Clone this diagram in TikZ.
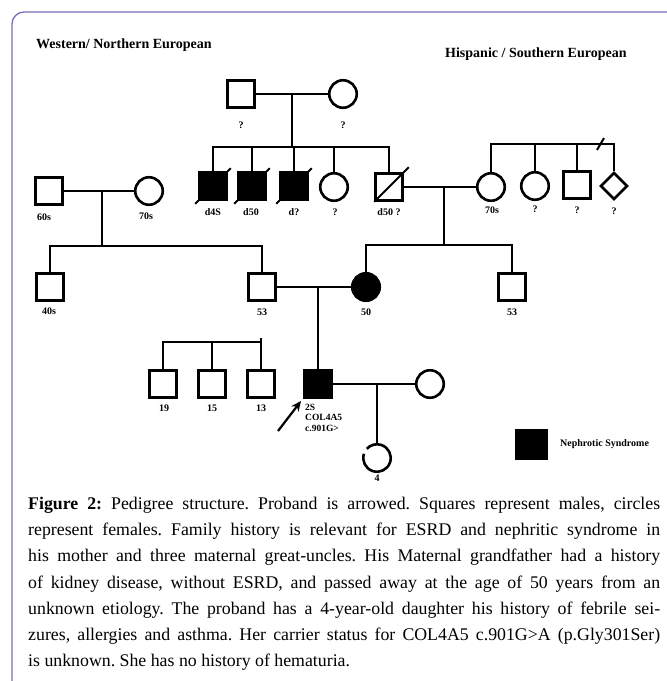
\documentclass[tikz,border=0pt]{standalone}
\usepackage{fontspec}
\setmainfont{Liberation Serif}
\usetikzlibrary{shapes.geometric,arrows.meta}
\definecolor{framec}{RGB}{122,112,184}
\frenchspacing
\begin{document}
\begin{tikzpicture}[x=1pt,y=-1pt,
  ped/.style={line width=2.6pt,line join=miter},
  male/.style={draw,line width=2.6pt,rectangle,minimum size=27pt,inner sep=0pt},
  female/.style={draw,line width=2.6pt,circle,minimum size=27.5pt,inner sep=0pt},
  unk/.style={draw,line width=2.6pt,diamond,minimum size=27pt,inner sep=0pt},
  aff/.style={fill=black},
  lab/.style={font=\bfseries\fontsize{10}{11}\selectfont,inner sep=0pt},
  hdr/.style={font=\bfseries\fontsize{14}{16}\selectfont,anchor=west,inner sep=0pt},
  dslash/.style={line width=1.8pt},
]
\useasboundingbox (0,0) rectangle (667,681);
\fill[white] (0,0) rectangle (667,681);
% frame
\coordinate (fr1) at (12,681);
\coordinate (fr2) at (12,12);
\coordinate (fr3) at (667,12);
\draw[framec,line width=1.3pt,rounded corners=12pt] (fr1) -- (fr2) -- (fr3);

% headers
\node[hdr] (hw) at (36,45) {Western/ Northern European};
\node[hdr] (hh) at (445,54) {Hispanic / Southern European};

% ---- top (maternal great-grandparents)
\node[male] (tgf) at (241,94) {};
\node[female] (tgm) at (343,94) {};
\node[lab] (ltgf) at (241,125) {?};
\node[lab] (ltgm) at (343,125) {?};
\draw[ped] (tgf) -- (tgm);
\coordinate (tm) at (292,94);
\coordinate (ts) at (292,147);
\draw[ped] (tm) -- (ts);

% sibship of great-uncles
\node[male,aff] (gu1) at (213,186) {};
\node[male,aff] (gu2) at (252,186) {};
\node[male,aff] (gu3) at (294,186) {};
\node[female] (ga) at (334,187) {};
\node[male] (gf) at (389,187) {};
\draw[ped] (gu1) -- (gu1|-ts) -- (gf|-ts) -- (gf);
\draw[ped] (gu2|-ts) -- (gu2);
\draw[ped] (gu3|-ts) -- (gu3);
\draw[ped] (ga|-ts) -- (ga);
\foreach \n in {gu1,gu2,gu3}{
  \draw[dslash] ([shift={(-3,3)}]\n.south west) -- ([shift={(3,-3)}]\n.north east);
}
\draw[dslash] (gf.south west) -- ([shift={(5,-5)}]gf.north east);
\node[lab] (lgu1) at (213,212) {d4S};
\node[lab] (lgu2) at (251,212) {d50};
\node[lab] (lgu3) at (294,212) {d?};
\node[lab] (lga) at (335,212) {?};
\node[lab] (lgf) at (389,212) {d50 ?};

% Hispanic side
\node[female] (gm) at (491,187) {};
\node[female] (gs1) at (535,186) {};
\node[male] (gb) at (577,185) {};
\node[unk] (gx) at (614,186) {};
\coordinate (hs) at (550,144);
\draw[ped] (gm) -- (gm|-hs) -- (gx|-hs) -- (gx);
\draw[ped] (gs1|-hs) -- (gs1);
\draw[ped] (gb|-hs) -- (gb);
\coordinate (bk1) at (597,150);
\coordinate (bk2) at (604,138);
\draw[line width=2pt] (bk1) -- (bk2);
\node[lab] (lgm) at (492,210) {70s};
\node[lab] (lgs1) at (535,209) {?};
\node[lab] (lgb) at (577,210) {?};
\node[lab] (lgx) at (614,211) {?};

\draw[ped] (gf) -- (gm);
\coordinate (pm) at (444,187);
\coordinate (ps) at (444,245);
\draw[ped] (pm) -- (ps);

% Western side
\node[male] (wgf) at (49,191) {};
\node[female] (wgm) at (149,191) {};
\draw[ped] (wgf) -- (wgm);
\coordinate (wm) at (102,191);
\coordinate (ws) at (102,246);
\draw[ped] (wm) -- (ws);
\node[lab] (lwgf) at (44,217) {60s};
\node[lab] (lwgm) at (146,216) {70s};

\node[male] (u40) at (50,287) {};
\node[male] (fa) at (262,287) {};
\draw[ped] (u40) -- (u40|-ws) -- (fa|-ws) -- (fa);
\node[lab] (lu40) at (49,311) {40s};
\node[lab] (lfa) at (262,312) {53};

% mother and her brother
\node[female,aff] (mo) at (366,287) {};
\node[male] (u53) at (512,287) {};
\draw[ped] (mo) -- (mo|-ps) -- (u53|-ps) -- (u53);
\node[lab] (lmo) at (366,312) {50};
\node[lab] (lu53) at (512,312) {53};

\draw[ped] (fa) -- (mo);
\coordinate (fm) at (318,287);

% proband
\node[male,aff] (pb) at (318,384) {};
\draw[ped] (fm) -- (pb);
\node[lab,anchor=north west,align=left,font=\bfseries\fontsize{9.5}{10.5}\selectfont] (lpb) at (305,404) {2S\\COL4A5\\c.901G>};
\coordinate (arS) at (278,431);
\coordinate (arE) at (301,401);
\draw[line width=2.2pt,-{Stealth[length=10pt,width=9pt]}] (arS) -- (arE);

% half siblings
\node[male] (hb19) at (163,384) {};
\node[male] (hb15) at (212,384) {};
\node[male] (hb13) at (261,384) {};
\coordinate (hsl) at (200,342);
\coordinate (htk) at (261,338);
\draw[ped] (hb19) -- (hb19|-hsl) -- (hb13|-hsl);
\draw[ped] (htk) -- (hb13);
\draw[ped] (hb15|-hsl) -- (hb15);
\node[lab] (lhb19) at (164,408) {19};
\node[lab] (lhb15) at (212,408) {15};
\node[lab] (lhb13) at (261,408) {13};

% wife and daughter
\node[female] (wf) at (430,384) {};
\draw[ped] (pb) -- (wf);
\coordinate (dm) at (377,384);
\node[female,draw=none] (da) at (377,458) {};
\draw[ped] (dm) -- (da.north);
\draw[ped] ([shift={(162:13.75pt)}]da.center) arc[start angle=162,end angle=498,radius=13.75pt];
\node[lab] (lda) at (377,478) {4};

% legend
\node[fill=black,minimum width=33pt,minimum height=31pt,inner sep=0pt] (leg) at (531,444) {};
\node[lab,anchor=west] (legt) at (560,444) {Nephrotic Syndrome};

% caption
\node[anchor=north west,inner sep=0pt,align=left,font=\fontsize{17.8}{26.2}\selectfont] (cap) at (28,497) {%
\makebox[632pt][s]{\textbf{Figure 2:} Pedigree structure. Proband is arrowed. Squares represent males, circles}\\
\makebox[632pt][s]{represent females. Family history is relevant for ESRD and nephritic syndrome in}\\
\makebox[632pt][s]{his mother and three maternal great-uncles. His Maternal grandfather had a history}\\
\makebox[632pt][s]{of kidney disease, without ESRD, and passed away at the age of 50 years from an}\\
\makebox[632pt][s]{unknown etiology. The proband has a 4-year-old daughter his history of febrile sei-}\\
\makebox[632pt][s]{zures, allergies and asthma. Her carrier status for COL4A5 c.901G>A (p.Gly301Ser)}\\
is unknown. She has no history of hematuria.};
\end{tikzpicture}
\end{document}
